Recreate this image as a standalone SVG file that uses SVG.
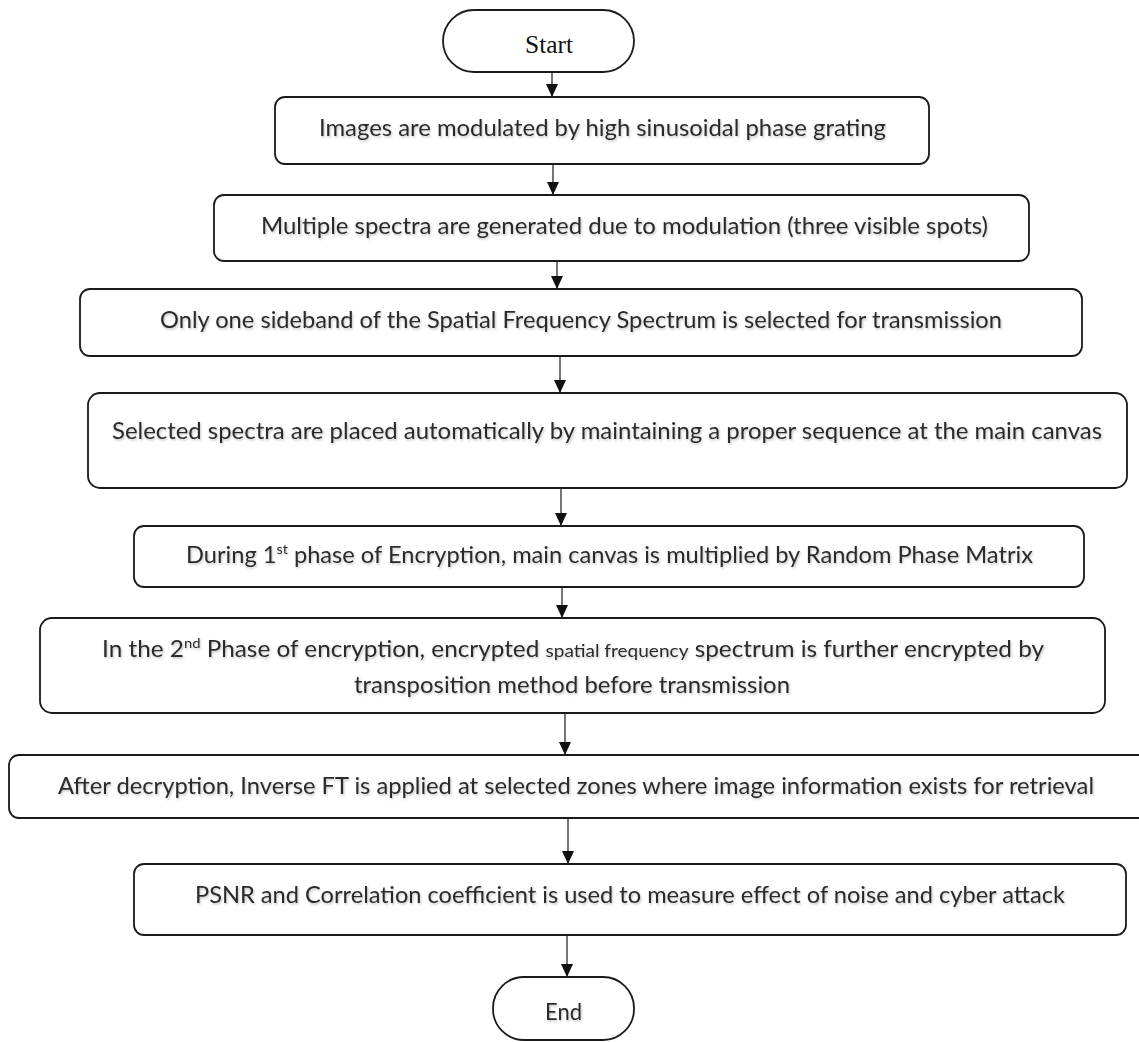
<svg xmlns="http://www.w3.org/2000/svg" width="1139" height="1042" viewBox="0 0 1139 1042">
<style>
  .box { fill: #ffffff; stroke: #1a1a1a; stroke-width: 1.8; }
  .lbl { font-family: Lato, "Open Sans", "Liberation Sans", sans-serif; font-size: 23px; fill: #2a2a2a; filter: url(#sh); }
  .serif { font-family: "Liberation Serif", "Times New Roman", serif; font-size: 25px; fill: #111; }
  .small { font-size: 18px; }
  .sup { font-size: 14px; }
  .conn line { stroke: #1a1a1a; stroke-width: 1.2; marker-end: url(#arr); }
</style>
<defs>
  <marker id="arr" markerUnits="userSpaceOnUse" markerWidth="13" markerHeight="12" refX="13" refY="6" orient="auto" viewBox="0 0 13 12">
    <path d="M0,0 L13,6 L0,12 Z" fill="#111"/>
  </marker>
  <filter id="sh" x="-5%" y="-30%" width="110%" height="160%">
    <feDropShadow dx="1" dy="1.5" stdDeviation="0.8" flood-color="#777" flood-opacity="0.45"/>
  </filter>
</defs>
<rect width="1139" height="1042" fill="#ffffff"/>

<g id="connectors" class="conn">
  <line x1="552" y1="72" x2="552" y2="97"/>
  <line x1="553" y1="164" x2="553" y2="195"/>
  <line x1="557" y1="261" x2="557" y2="289"/>
  <line x1="560" y1="356" x2="560" y2="393"/>
  <line x1="561" y1="488" x2="561" y2="526"/>
  <line x1="562" y1="587" x2="562" y2="618"/>
  <line x1="565" y1="713" x2="565" y2="755"/>
  <line x1="568" y1="818" x2="568" y2="864"/>
  <line x1="567" y1="935" x2="567" y2="977"/>
</g>

<g id="start">
  <rect class="box" x="443" y="10" width="191" height="62" rx="31" ry="31"/>
  <text class="serif" x="525" y="53" textLength="48" lengthAdjust="spacingAndGlyphs">Start</text>
</g>

<g id="step1">
  <rect class="box" x="275" y="97" width="654" height="67" rx="10" ry="10"/>
  <text class="lbl" x="319" y="136" textLength="567" lengthAdjust="spacingAndGlyphs">Images are modulated by high sinusoidal phase grating</text>
</g>

<g id="step2">
  <rect class="box" x="214" y="195" width="815" height="66" rx="10" ry="10"/>
  <text class="lbl" x="261" y="234" textLength="727" lengthAdjust="spacingAndGlyphs">Multiple spectra are generated due to modulation (three visible spots)</text>
</g>

<g id="step3">
  <rect class="box" x="80" y="289" width="1002" height="67" rx="10" ry="10"/>
  <text class="lbl" x="160" y="328" textLength="842" lengthAdjust="spacingAndGlyphs">Only one sideband of the Spatial Frequency Spectrum is selected for transmission</text>
</g>

<g id="step4">
  <rect class="box" x="88" y="393" width="1039" height="95" rx="12" ry="12"/>
  <text class="lbl" x="112" y="439" textLength="990" lengthAdjust="spacingAndGlyphs">Selected spectra are placed automatically by maintaining a proper sequence at the main canvas</text>
</g>

<g id="step5">
  <rect class="box" x="134" y="526" width="950" height="61" rx="10" ry="10"/>
  <text class="lbl" x="186" y="563" textLength="847" lengthAdjust="spacingAndGlyphs">During 1<tspan class="sup" dy="-9">st</tspan><tspan dy="9"> phase of Encryption, main canvas is multiplied by Random Phase Matrix</tspan></text>
</g>

<g id="step6">
  <rect class="box" x="40" y="618" width="1065" height="95" rx="12" ry="12"/>
  <text class="lbl" x="102" y="657" textLength="942" lengthAdjust="spacingAndGlyphs">In the 2<tspan class="sup" dy="-9">nd</tspan><tspan dy="9"> Phase of encryption, encrypted </tspan><tspan class="small">spatial frequency</tspan> spectrum is further encrypted by</text>
  <text class="lbl" x="354" y="693" textLength="436" lengthAdjust="spacingAndGlyphs">transposition method before transmission</text>
</g>

<g id="step7">
  <rect class="box" x="9" y="755" width="1140" height="63" rx="10" ry="10"/>
  <text class="lbl" x="58" y="794" textLength="1036" lengthAdjust="spacingAndGlyphs">After decryption, Inverse FT is applied at selected zones where image information exists for retrieval</text>
</g>

<g id="step8">
  <rect class="box" x="134" y="864" width="992" height="71" rx="10" ry="10"/>
  <text class="lbl" x="195" y="903" textLength="870" lengthAdjust="spacingAndGlyphs">PSNR and Correlation coefficient is used to measure effect of noise and cyber attack</text>
</g>

<g id="end">
  <rect class="box" x="493" y="977" width="141" height="63" rx="31" ry="31"/>
  <text class="lbl" x="545" y="1020" textLength="37" lengthAdjust="spacingAndGlyphs" style="font-size:24px">End</text>
</g>
</svg>
